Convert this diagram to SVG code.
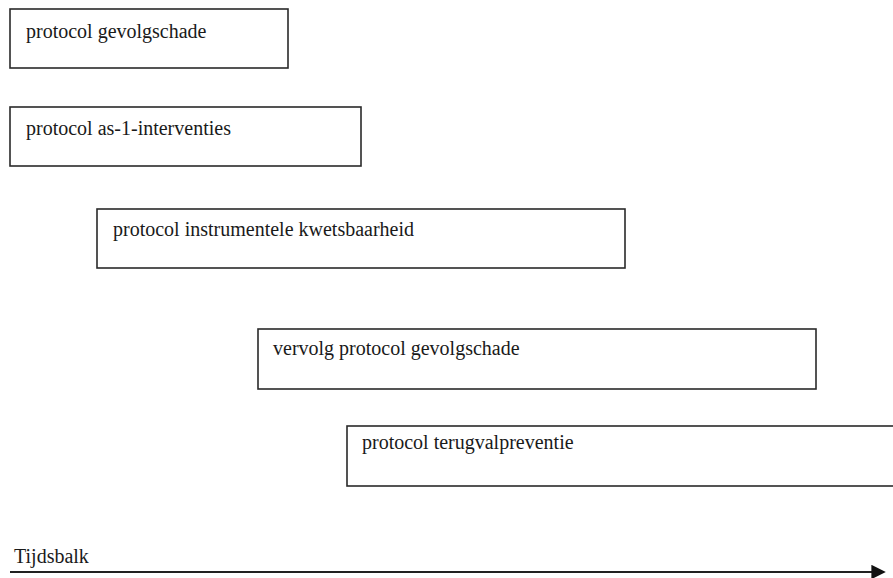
<svg xmlns="http://www.w3.org/2000/svg" width="893" height="578" viewBox="0 0 893 578">
<style>
.box{fill:#fff;stroke:#2a2a2a;stroke-width:1.6}
.t{font-family:'Liberation Serif',serif;font-size:20px;fill:#1a1a1a}
.ax{stroke:#222;stroke-width:1.8;fill:none}
</style>
<defs>
<marker id="ah" markerWidth="8" markerHeight="8" refX="7" refY="4" orient="auto" markerUnits="strokeWidth">
<path d="M0,0 L8,4 L0,8 Z" fill="#111"/>
</marker>
</defs>
<rect width="893" height="578" fill="#fff"/>
<g id="n1"><rect class="box" x="10" y="9" width="278" height="59"/><text class="t" x="26" y="38">protocol gevolgschade</text></g>
<g id="n2"><rect class="box" x="10" y="107" width="351" height="59"/><text class="t" x="26" y="135">protocol as-1-interventies</text></g>
<g id="n3"><rect class="box" x="97" y="209" width="528" height="59"/><text class="t" x="113" y="236">protocol instrumentele kwetsbaarheid</text></g>
<g id="n4"><rect class="box" x="258" y="329" width="558" height="60"/><text class="t" x="273" y="355">vervolg protocol gevolgschade</text></g>
<g id="n5"><rect class="box" x="347" y="426" width="560" height="60"/><text class="t" x="362" y="449">protocol terugvalpreventie</text></g>
<g id="connectors">
<line class="ax" x1="10" y1="572" x2="884" y2="572" marker-end="url(#ah)"/>
</g>
<text class="t" x="14" y="563">Tijdsbalk</text>
</svg>
